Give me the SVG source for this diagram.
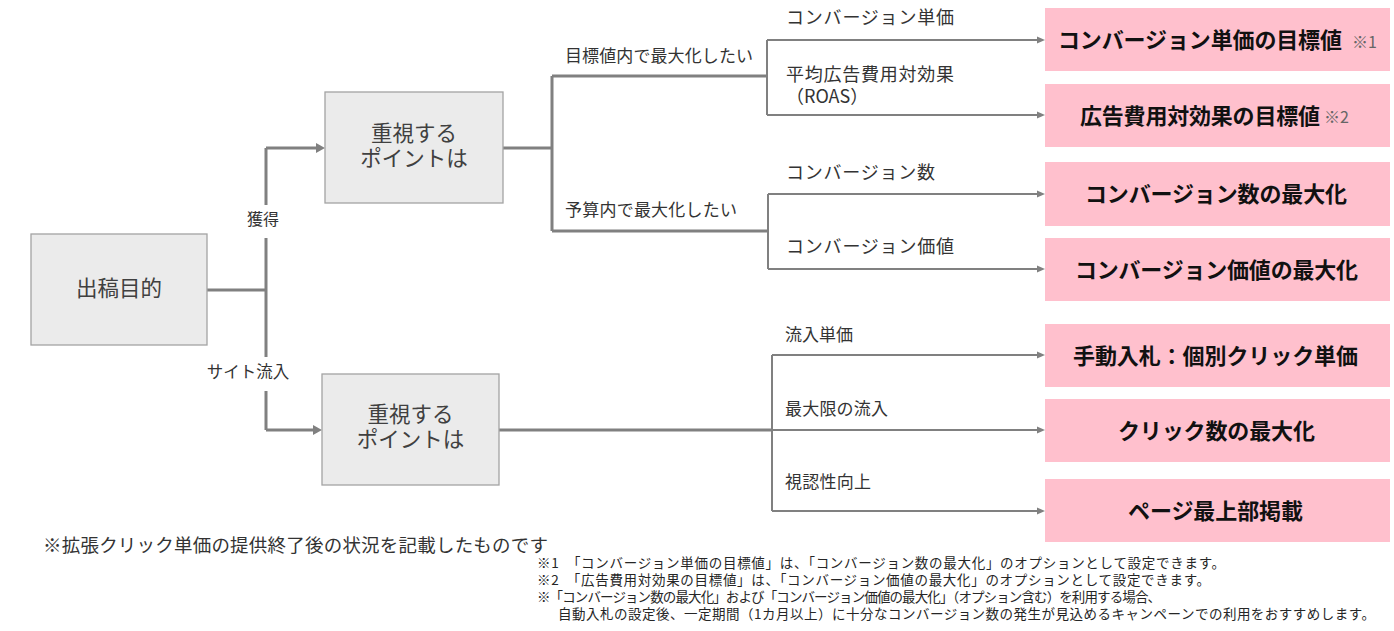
<svg xmlns="http://www.w3.org/2000/svg" width="1394" height="631" viewBox="0 0 1394 631">
<style>
text{font-family:"Noto Sans CJK JP","Noto Sans",sans-serif;fill:#333333}
.gbox{fill:#ebebeb;stroke:#a3a3a3;stroke-width:1.3}
.pbox{fill:#ffc0cd}
.gt{font-size:21.5px;text-anchor:middle;fill:#404040}
.pt{font-size:22px;font-weight:bold;fill:#111111}
.note{font-size:13.5px;fill:#262626}
.lbl{font-size:17px}
.lbl2{font-size:18px}
.ref{font-size:16px;fill:#666666}
.thick{stroke:#808080;stroke-width:3;fill:none}
.thin{stroke:#808080;stroke-width:2;fill:none}
.ah{fill:#808080}
</style>
<rect width="1394" height="631" fill="#ffffff"/>

<g id="connectors">
  <path class="thick" d="M207,290 H266 M266,148 V430 M266,148 H317 M266,430 H314"/>
  <polygon class="ah" points="316,143 325,148 316,153"/>
  <polygon class="ah" points="313,425 322,430 313,435"/>
  <path class="thick" d="M503,148 H552 M552,76 V231 M552,76 H767 M552,231 H768"/>
  <path class="thin" d="M767,40 V115 M768,194 V269"/>
  <path class="thin" d="M767,40 H1038 M767,115 H1038 M768,194 H1038 M768,269 H1038"/>
  <path class="thick" d="M499,430 H772"/>
  <path class="thin" d="M772,355 V511 M772,355 H1038 M772,430 H1038 M772,511 H1038"/>
  <polygon class="ah" points="1037,36.5 1045,40 1037,43.5"/>
  <polygon class="ah" points="1037,111.5 1045,115 1037,118.5"/>
  <polygon class="ah" points="1037,190.5 1045,194 1037,197.5"/>
  <polygon class="ah" points="1037,265.5 1045,269 1037,272.5"/>
  <polygon class="ah" points="1037,351.5 1045,355 1037,358.5"/>
  <polygon class="ah" points="1037,426.5 1045,430 1037,433.5"/>
  <polygon class="ah" points="1037,507.5 1045,511 1037,514.5"/>
  <rect x="243" y="205" width="40" height="33" fill="#ffffff"/>
  <text class="lbl" x="263" y="225" text-anchor="middle" style="font-size:16px">獲得</text>
  <rect x="203" y="357" width="92" height="34" fill="#ffffff"/>
  <text class="lbl" x="248" y="378" text-anchor="middle" style="font-size:16.5px">サイト流入</text>
  <text class="lbl" x="565" y="62" textLength="188">目標値内で最大化したい</text>
  <text class="lbl" x="565" y="216" textLength="172">予算内で最大化したい</text>
  <text class="lbl2" x="786" y="24" textLength="168">コンバージョン単価</text>
  <text class="lbl2" x="786" y="81"><tspan x="786" textLength="168">平均広告費用対効果</tspan><tspan x="786" dy="22">（ROAS）</tspan></text>
  <text class="lbl2" x="786" y="179" textLength="149">コンバージョン数</text>
  <text class="lbl2" x="786" y="253" textLength="168">コンバージョン価値</text>
  <text class="lbl" x="785" y="341" textLength="68">流入単価</text>
  <text class="lbl" x="785" y="415" textLength="103">最大限の流入</text>
  <text class="lbl" x="785" y="488" textLength="86">視認性向上</text>
</g>

<g id="node-purpose">
  <rect class="gbox" x="31" y="234" width="176" height="111"/>
  <text class="gt" x="119" y="295.5">出稿目的</text>
</g>

<g id="node-point-acquisition">
  <rect class="gbox" x="325" y="92" width="178" height="111"/>
  <text class="gt" x="414" y="141"><tspan x="414">重視する</tspan><tspan x="414" dy="24.5">ポイントは</tspan></text>
</g>

<g id="node-point-traffic">
  <rect class="gbox" x="322" y="374" width="177" height="111"/>
  <text class="gt" x="410.5" y="422"><tspan x="410.5">重視する</tspan><tspan x="410.5" dy="25">ポイントは</tspan></text>
</g>

<g id="node-target-cpa">
  <rect class="pbox" x="1045" y="8" width="345" height="63"/>
  <text class="pt" x="1058" y="48" textLength="284">コンバージョン単価の目標値</text>
  <text class="ref" x="1352" y="47.5">※1</text>
</g>

<g id="node-target-roas">
  <rect class="pbox" x="1045" y="84" width="345" height="63"/>
  <text class="pt" x="1080" y="123.5" textLength="240">広告費用対効果の目標値</text>
  <text class="ref" x="1324" y="123">※2</text>
</g>

<g id="node-max-conversions">
  <rect class="pbox" x="1045" y="162" width="345" height="64"/>
  <text class="pt" x="1085" y="202" textLength="262">コンバージョン数の最大化</text>
</g>

<g id="node-max-conv-value">
  <rect class="pbox" x="1045" y="238" width="345" height="63"/>
  <text class="pt" x="1075" y="277.5" textLength="283">コンバージョン価値の最大化</text>
</g>

<g id="node-manual-cpc">
  <rect class="pbox" x="1045" y="324" width="345" height="63"/>
  <text class="pt" x="1073" y="363.5" textLength="285">手動入札：個別クリック単価</text>
</g>

<g id="node-max-clicks">
  <rect class="pbox" x="1045" y="399" width="345" height="63"/>
  <text class="pt" x="1118" y="439" textLength="197">クリック数の最大化</text>
</g>

<g id="node-top-of-page">
  <rect class="pbox" x="1045" y="479" width="345" height="63"/>
  <text class="pt" x="1128" y="518.5" textLength="175">ページ最上部掲載</text>
</g>

<g id="notes">
  <text x="43" y="552" style="font-size:18.5px" textLength="505">※拡張クリック単価の提供終了後の状況を記載したものです</text>
  <text class="note" x="537" y="568" textLength="688">※1　「コンバージョン単価の目標値」は、「コンバージョン数の最大化」のオプションとして設定できます。</text>
  <text class="note" x="537" y="585" textLength="673">※2　「広告費用対効果の目標値」は、「コンバージョン価値の最大化」のオプションとして設定できます。</text>
  <text class="note" x="537" y="602" textLength="624">※「コンバージョン数の最大化」および「コンバージョン価値の最大化」（オプション含む）を利用する場合、</text>
  <text class="note" x="558" y="619" textLength="817">自動入札の設定後、一定期間（1カ月以上）に十分なコンバージョン数の発生が見込めるキャンペーンでの利用をおすすめします。</text>
</g>
</svg>
